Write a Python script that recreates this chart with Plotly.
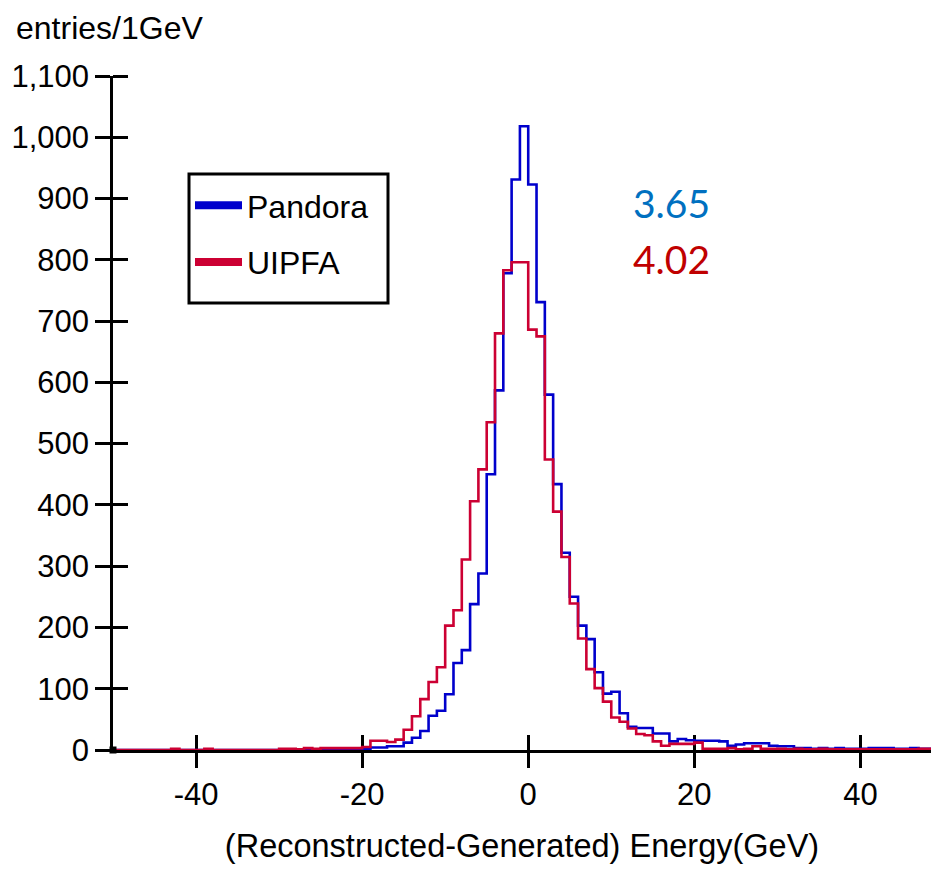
import plotly.graph_objects as go

# ---- data (1 GeV bins, left edges from -50 to 48) ----
bin_left_edges = list(range(-50, 49))
bin_width = 1

pandora_counts = (
    [0] * 23 +                                   # -50 .. -28
    [1, 1, 0, 1, 1, 1, 1] +                      # -27 .. -21
    [2, 4, 4, 6, 6, 12, 20, 31, 56, 64,          # -20 .. -11
     91, 142, 163, 238, 288, 450, 587, 778, 931, 1018,   # -10 .. -1
     923, 731, 580, 434, 322, 250, 203, 181, 127, 92,    # 0 .. 9
     95, 60, 38, 36, 36, 27, 27, 14, 18, 16,             # 10 .. 19
     15, 15, 15, 14, 7, 9, 11, 11, 11, 7,                # 20 .. 29
     6, 6, 3, 3, 2, 3, 2, 3, 2, 2,                       # 30 .. 39
     2, 3, 3, 3, 2, 2, 3, 2, 2]                          # 40 .. 48
)

uipfa_counts = (
    [0, 0, 0, 0, 0, 0, 0, 2, 0, 0, 0, 2, 0, 0, 0, 0, 0, 0, 0, 0] +  # -50 .. -31
    [2, 2, 1, 3, 2, 3, 3, 3, 3, 3] +             # -30 .. -21
    [5, 15, 15, 13, 17, 33, 55, 83, 111, 135,    # -20 .. -11
     203, 228, 311, 406, 458, 535, 680, 783, 796, 796,   # -10 .. -1
     686, 675, 474, 389, 315, 239, 182, 132, 101, 79,    # 0 .. 9
     53, 46, 35, 26, 24, 14, 7, 10, 10, 10,              # 10 .. 19
     12, 2, 2, 2, 3, 1, 2, 6, 2, 2,                      # 20 .. 29
     2, 1, 2, 1, 1, 2, 1, 1, 1, 1,                       # 30 .. 39
     1, 1, 1, 1, 1, 1, 1, 2, 2]                          # 40 .. 48
)

series_names = ["Pandora", "UIPFA"]
resolutions = ["3.65", "4.02"]

x_tick_vals = [-40, -20, 0, 20, 40]
x_tick_text = ["-40", "-20", "0", "20", "40"]
y_tick_vals = list(range(0, 1101, 100))
y_tick_text = ["0", "100", "200", "300", "400", "500", "600", "700", "800",
               "900", "1,000", "1,100"]

# ---- styles ----
BLUE = "#0000CC"
RED = "#CC0033"
TXT_BLUE = "#0070C0"
TXT_RED = "#C00000"
FONT = "Liberation Sans, Arial, sans-serif"

# plot area in pixels (for converting decoration positions to paper coords)
PL, PR, PT, PB = 113, 931, 76, 750
PW, PH = PR - PL, PB - PT


def px(xp):
    return (xp - PL) / PW


def py(yp):
    return (PB - yp) / PH


def step_xy(counts):
    xs = bin_left_edges + [bin_left_edges[-1] + bin_width]
    ys = list(counts) + [counts[-1]]
    return xs, ys


fig = go.Figure()

for name, counts, col in [(series_names[0], pandora_counts, BLUE),
                          (series_names[1], uipfa_counts, RED)]:
    xs, ys = step_xy(counts)
    fig.add_trace(go.Scatter(x=xs, y=ys, mode="lines", line_shape="hv",
                             line=dict(color=col, width=2.6),
                             showlegend=False, hoverinfo="skip"))

# legend-only entries with thick samples
for i, (name, col) in enumerate([(series_names[0], BLUE), (series_names[1], RED)]):
    fig.add_trace(go.Scatter(x=[None], y=[None], mode="lines", name=name,
                             legendgroup=f"g{i}",
                             line=dict(color=col, width=8)))

# small square at the axis origin
fig.add_trace(go.Scatter(x=[bin_left_edges[0]], y=[0], mode="markers",
                         marker=dict(symbol="square", size=7, color="black"),
                         showlegend=False, hoverinfo="skip", cliponaxis=False))

XR = [-50, 48.5]
YR = [0, 1100]
EPS = 1e-7  # inside half of the crossing ticks (minor ticks next to majors)

axis_common = dict(showgrid=False, zeroline=False, linecolor="black",
                   tickcolor="black", tickwidth=2.5, ticklen=15)


def minor_inside(vals):
    return dict(tickmode="array", tickvals=[v + EPS for v in vals],
                ticks="inside", ticklen=15, tickwidth=2.5,
                tickcolor="black", showgrid=False)


fig.update_layout(
    width=931, height=869,
    margin=dict(l=PL, r=931 - PR, t=PT, b=869 - PB),
    paper_bgcolor="white", plot_bgcolor="white",
    font=dict(family=FONT, size=31, color="black"),
    xaxis=dict(range=XR, tickvals=x_tick_vals, ticktext=x_tick_text,
               ticks="outside", showline=True, linewidth=2.5,
               layer="below traces", minor=minor_inside(x_tick_vals),
               title=dict(text="(Reconstructed-Generated) Energy(GeV)",
                          font=dict(size=32.5), standoff=24),
               tickfont=dict(size=31), **axis_common),
    yaxis=dict(range=YR, tickvals=y_tick_vals, ticktext=y_tick_text,
               ticks="outside", showline=True, linewidth=2.5,
               layer="below traces", minor=minor_inside(y_tick_vals),
               tickfont=dict(size=31), **axis_common),
    legend=dict(x=px(190), y=py(178),
                xanchor="left", yanchor="top",
                bgcolor="rgba(0,0,0,0)", borderwidth=0,
                font=dict(size=32), tracegroupgap=12, itemwidth=47),
    shapes=[
        dict(type="rect", xref="paper", yref="paper",
             x0=px(189), x1=px(388), y0=py(174), y1=py(303),
             line=dict(color="black", width=3), fillcolor="white",
             layer="above"),
    ],
    annotations=[
        dict(text="entries/1GeV", xref="paper", yref="paper",
             x=px(14), y=py(28), xanchor="left",
             yanchor="middle", showarrow=False, font=dict(size=32)),
        dict(text=resolutions[0], xref="paper", yref="paper",
             x=px(671), y=py(203), xanchor="center",
             yanchor="middle", showarrow=False,
             font=dict(family="Lato, Carlito, sans-serif", size=39, color=TXT_BLUE)),
        dict(text=resolutions[1], xref="paper", yref="paper",
             x=px(671), y=py(259), xanchor="center",
             yanchor="middle", showarrow=False,
             font=dict(family="Lato, Carlito, sans-serif", size=39, color=TXT_RED)),
    ],
)

fig.write_html("out.html")
